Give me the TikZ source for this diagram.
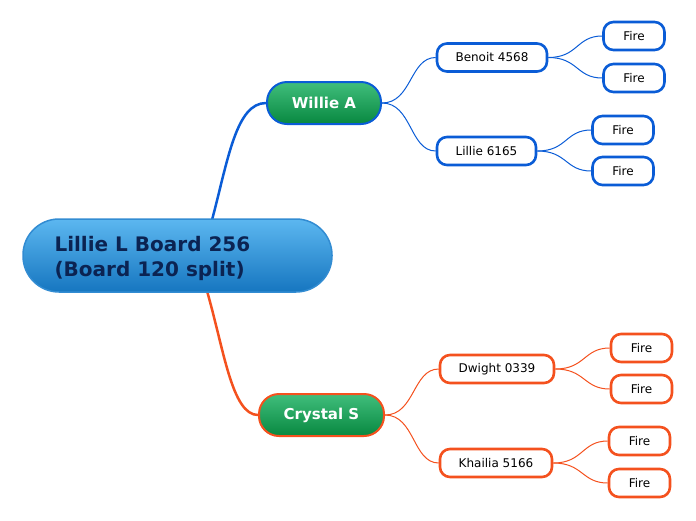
\documentclass[tikz,border=0pt]{standalone}
\usepackage{fontspec}
\setmainfont{DejaVu Sans}
\usetikzlibrary{backgrounds}
\definecolor{bl}{HTML}{0A5CD6}
\definecolor{og}{HTML}{F4511E}
\definecolor{navy}{HTML}{0B2352}
\begin{document}
\begin{tikzpicture}[x=1pt,y=-1pt,
  rootbox/.style={rounded corners=36pt,draw={rgb,255:red,50;green,140;blue,210},line width=1.5pt,
    top color={rgb,255:red,92;green,183;blue,240},bottom color={rgb,255:red,22;green,118;blue,192},
    minimum width=309pt,minimum height=73pt,inner sep=0pt},
  roottext/.style={anchor=west,align=left,text=navy,font=\fontsize{20}{25}\selectfont\bfseries},
  mainbox/.style={rounded corners=20pt,line width=2pt,
    top color={rgb,255:red,64;green,190;blue,124},bottom color={rgb,255:red,8;green,136;blue,64},
    minimum height=42pt,inner sep=0pt,text=white,font=\fontsize{15}{18}\selectfont\bfseries},
  subbox/.style={rounded corners=10pt,line width=2.6pt,fill=white,minimum height=28pt,inner sep=0pt,
    font=\fontsize{12}{14}\selectfont},
  firebox/.style={subbox,minimum width=61pt},
  trunk/.style={line width=2.5pt},
  twig/.style={line width=1pt}]
\useasboundingbox (0,0) rectangle (696,520);
\node[rootbox] (root) at (177.5,255.5) {};
\node[roottext] (rtxt) at (51,258) {Lillie L Board 256\\(Board 120 split)};
\coordinate (rt) at (212,220);
\coordinate (rb) at (207,291);
\node[mainbox,draw=bl,minimum width=114pt] (wa) at (324,103) {Willie A};
\node[mainbox,draw=og,minimum width=125pt] (cs) at (321.5,415) {Crystal S};
\node[subbox,draw=bl,minimum width=110pt] (be) at (492,57.5) {Benoit 4568};
\node[subbox,draw=bl,minimum width=99pt] (li) at (486.5,151) {Lillie 6165};
\node[firebox,draw=bl] (f1) at (634,36) {Fire};
\node[firebox,draw=bl] (f2) at (634,78) {Fire};
\node[firebox,draw=bl] (f3) at (623,130) {Fire};
\node[firebox,draw=bl] (f4) at (623,171) {Fire};
\node[subbox,draw=og,minimum width=114pt] (dw) at (497,369) {Dwight 0339};
\node[subbox,draw=og,minimum width=112pt] (kh) at (496,463) {Khailia 5166};
\node[firebox,draw=og] (g1) at (641.5,348) {Fire};
\node[firebox,draw=og] (g2) at (641.5,389) {Fire};
\node[firebox,draw=og] (g3) at (639.5,441) {Fire};
\node[firebox,draw=og] (g4) at (639.5,483) {Fire};
\begin{scope}[on background layer]
\draw[trunk,bl] (rt) .. controls (228,160) and (236,103) .. (wa.west);
\draw[trunk,og] (rb) .. controls (224,350) and (232,415) .. (cs.west);
\foreach \a/\b in {wa/be,wa/li,be/f1,be/f2,li/f3,li/f4}
  \draw[twig,bl] (\a.east) .. controls ([xshift=30pt]\a.east) and ([xshift=-26pt]\b.west) .. (\b.west);
\foreach \a/\b in {cs/dw,cs/kh,dw/g1,dw/g2,kh/g3,kh/g4}
  \draw[twig,og] (\a.east) .. controls ([xshift=30pt]\a.east) and ([xshift=-26pt]\b.west) .. (\b.west);
\end{scope}
\end{tikzpicture}
\end{document}
